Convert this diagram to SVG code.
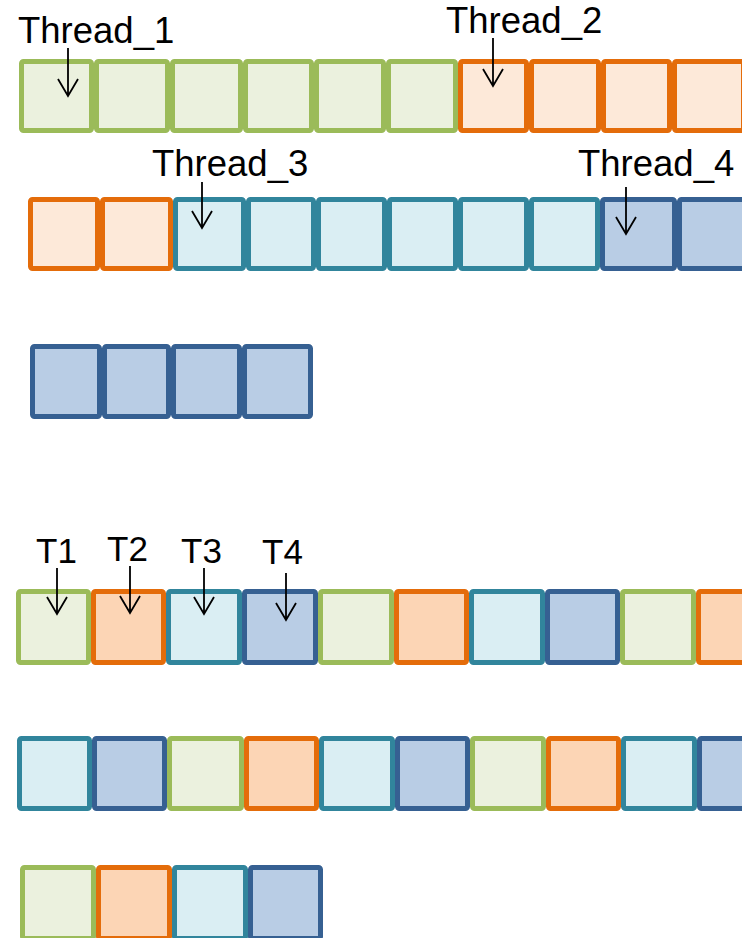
<svg xmlns="http://www.w3.org/2000/svg" width="742" height="938" viewBox="0 0 742 938">
  <style>
    .box { stroke-width: 5; }
    .g { fill: #EBF1DE; stroke: #9BBB59; }
    .o1 { fill: #FDE9D9; stroke: #E46C0A; }
    .o2 { fill: #FCD5B5; stroke: #E46C0A; }
    .t { fill: #DAEEF3; stroke: #31859C; }
    .b { fill: #B9CDE5; stroke: #366092; }
    .lbl { font-family: "Liberation Sans", Arial, sans-serif; font-size: 36.5px; fill: #000; }
    .arr { fill: none; stroke: #000; stroke-width: 1.8; }
  </style>
  <rect width="742" height="938" fill="#fff"/>

  <!-- Row 1: Thread_1 (green) then Thread_2 (orange) -->
  <g id="row1">
    <rect id="r1b1" class="box g" x="21.5" y="61.5" width="70" height="69" rx="2"/>
    <rect id="r1b2" class="box g" x="96.5" y="61.5" width="71" height="69" rx="2"/>
    <rect id="r1b3" class="box g" x="172.5" y="61.5" width="68" height="69" rx="2"/>
    <rect id="r1b4" class="box g" x="245.5" y="61.5" width="66" height="69" rx="2"/>
    <rect id="r1b5" class="box g" x="316.5" y="61.5" width="67" height="69" rx="2"/>
    <rect id="r1b6" class="box g" x="388.5" y="61.5" width="67" height="69" rx="2"/>
    <rect id="r1b7" class="box o1" x="460.5" y="61.5" width="66" height="69" rx="2"/>
    <rect id="r1b8" class="box o1" x="531.5" y="61.5" width="67" height="69" rx="2"/>
    <rect id="r1b9" class="box o1" x="603.5" y="61.5" width="66" height="69" rx="2"/>
    <rect id="r1b10" class="box o1" x="674.5" y="61.5" width="69" height="69" rx="2"/>
  </g>

  <!-- Row 2: remainder of Thread_2, Thread_3 (teal), Thread_4 (blue) -->
  <g id="row2">
    <rect id="r2b1" class="box o1" x="30.5" y="199.5" width="67" height="69" rx="2"/>
    <rect id="r2b2" class="box o1" x="102.5" y="199.5" width="68" height="69" rx="2"/>
    <rect id="r2b3" class="box t" x="175.5" y="199.5" width="68" height="69" rx="2"/>
    <rect id="r2b4" class="box t" x="248.5" y="199.5" width="65" height="69" rx="2"/>
    <rect id="r2b5" class="box t" x="318.5" y="199.5" width="66" height="69" rx="2"/>
    <rect id="r2b6" class="box t" x="389.5" y="199.5" width="66" height="69" rx="2"/>
    <rect id="r2b7" class="box t" x="460.5" y="199.5" width="66" height="69" rx="2"/>
    <rect id="r2b8" class="box t" x="531.5" y="199.5" width="66" height="69" rx="2"/>
    <rect id="r2b9" class="box b" x="602.5" y="199.5" width="72" height="69" rx="2"/>
    <rect id="r2b10" class="box b" x="679.5" y="199.5" width="70" height="69" rx="2"/>
  </g>

  <!-- Row 3: rest of Thread_4 -->
  <g id="row3">
    <rect id="r3b1" class="box b" x="32.5" y="346.5" width="67" height="70" rx="2"/>
    <rect id="r3b2" class="box b" x="104.5" y="346.5" width="64" height="70" rx="2"/>
    <rect id="r3b3" class="box b" x="173.5" y="346.5" width="66" height="70" rx="2"/>
    <rect id="r3b4" class="box b" x="244.5" y="346.5" width="66" height="70" rx="2"/>
  </g>

  <!-- Row 4: interleaved T1..T4 -->
  <g id="row4">
    <rect id="r4b1" class="box g" x="18.5" y="591.5" width="70" height="71" rx="2"/>
    <rect id="r4b2" class="box o2" x="93.5" y="591.5" width="70" height="71" rx="2"/>
    <rect id="r4b3" class="box t" x="168.5" y="591.5" width="71" height="71" rx="2"/>
    <rect id="r4b4" class="box b" x="244.5" y="591.5" width="71" height="71" rx="2"/>
    <rect id="r4b5" class="box g" x="320.5" y="591.5" width="71" height="71" rx="2"/>
    <rect id="r4b6" class="box o2" x="396.5" y="591.5" width="70" height="71" rx="2"/>
    <rect id="r4b7" class="box t" x="471.5" y="591.5" width="71" height="71" rx="2"/>
    <rect id="r4b8" class="box b" x="547.5" y="591.5" width="70" height="71" rx="2"/>
    <rect id="r4b9" class="box g" x="622.5" y="591.5" width="71" height="71" rx="2"/>
    <rect id="r4b10" class="box o2" x="698.5" y="591.5" width="71" height="71" rx="2"/>
  </g>

  <!-- Row 5 -->
  <g id="row5">
    <rect id="r5b1" class="box t" x="19.5" y="738.5" width="70" height="70" rx="2"/>
    <rect id="r5b2" class="box b" x="94.5" y="738.5" width="70" height="70" rx="2"/>
    <rect id="r5b3" class="box g" x="169.5" y="738.5" width="72" height="70" rx="2"/>
    <rect id="r5b4" class="box o2" x="246.5" y="738.5" width="70" height="70" rx="2"/>
    <rect id="r5b5" class="box t" x="321.5" y="738.5" width="71" height="70" rx="2"/>
    <rect id="r5b6" class="box b" x="397.5" y="738.5" width="70" height="70" rx="2"/>
    <rect id="r5b7" class="box g" x="472.5" y="738.5" width="71" height="70" rx="2"/>
    <rect id="r5b8" class="box o2" x="548.5" y="738.5" width="70" height="70" rx="2"/>
    <rect id="r5b9" class="box t" x="623.5" y="738.5" width="71" height="70" rx="2"/>
    <rect id="r5b10" class="box b" x="699.5" y="738.5" width="71" height="70" rx="2"/>
  </g>

  <!-- Row 6 -->
  <g id="row6">
    <rect id="r6b1" class="box g" x="22.5" y="867.5" width="71" height="71" rx="2"/>
    <rect id="r6b2" class="box o2" x="98.5" y="867.5" width="71" height="71" rx="2"/>
    <rect id="r6b3" class="box t" x="174.5" y="867.5" width="71" height="71" rx="2"/>
    <rect id="r6b4" class="box b" x="250.5" y="867.5" width="70" height="71" rx="2"/>
  </g>

  <!-- Labels -->
  <g id="labels" class="lbl">
    <text x="18" y="43">Thread_1</text>
    <text x="446" y="33">Thread_2</text>
    <text x="152" y="176">Thread_3</text>
    <text x="578" y="176">Thread_4</text>
    <text x="36" y="563" font-size="35">T1</text>
    <text x="107" y="561" font-size="35">T2</text>
    <text x="181" y="563" font-size="35">T3</text>
    <text x="262" y="564" font-size="35">T4</text>
  </g>

  <!-- Pointer arrows -->
  <g id="connectors" class="arr">
    <path d="M68 48 V96 M58 79 L68 96 L78 79"/>
    <path d="M493 38 V86 M483 69 L493 86 L503 69"/>
    <path d="M202 182 V228 M192 211 L202 228 L212 211"/>
    <path d="M626 187 V234 M616 217 L626 234 L636 217"/>
    <path d="M57 568 V614 M47 597 L57 614 L67 597"/>
    <path d="M130 566 V613 M120 596 L130 613 L140 596"/>
    <path d="M204 568 V614 M194 597 L204 614 L214 597"/>
    <path d="M286 573 V620 M276 603 L286 620 L296 603"/>
  </g>
</svg>
